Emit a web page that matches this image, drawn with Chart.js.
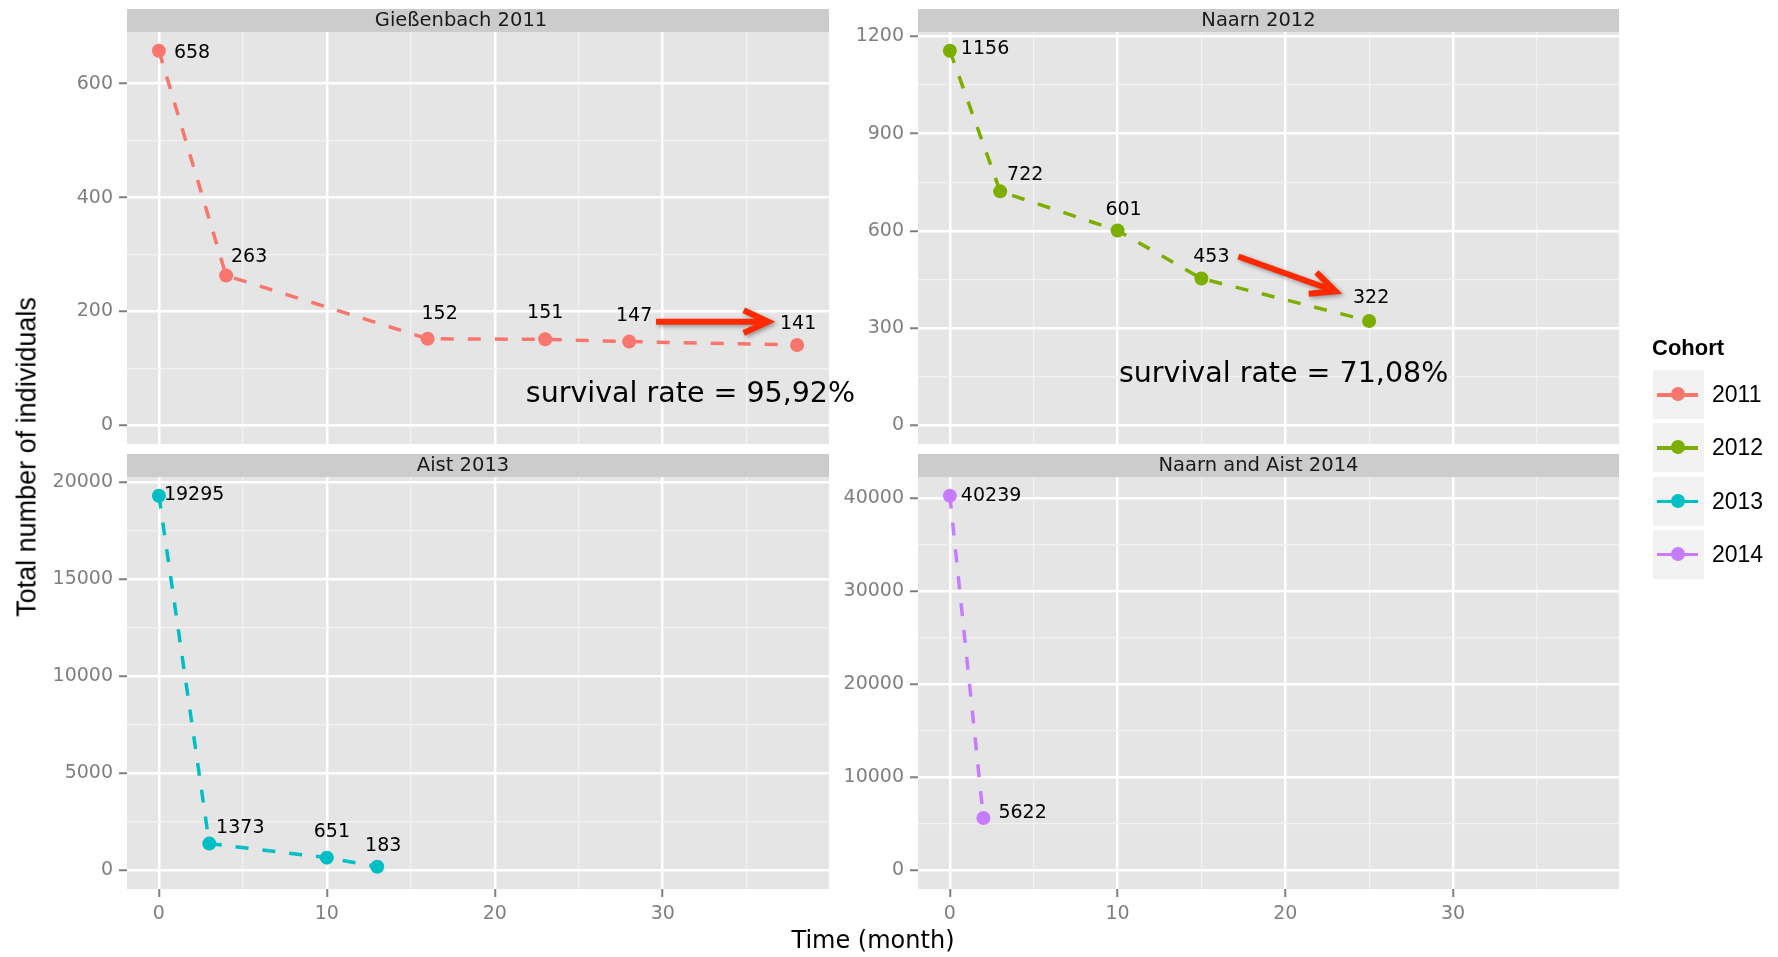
<!DOCTYPE html>
<html>
<head>
<meta charset="utf-8">
<script src="https://cdn.jsdelivr.net/npm/chart.js@4.4.1/dist/chart.umd.min.js"></script>
<style>
  body { margin: 0; background: #fff; width: 1778px; height: 957px; position: relative; overflow: hidden; }
  canvas { position: absolute; }
  .axis-title { position: absolute; white-space: nowrap; color: #000; }
  #ytitle { left: 27px; top: 457px; font: 27px "Liberation Sans", Arial, sans-serif; transform: translate(-50%, -50%) rotate(-90deg); }
  #xtitle { left: 873px; top: 928px; font: 24px/24px "DejaVu Sans", sans-serif; transform: translateX(-50%); }
  #legend { position: absolute; left: 1652px; top: 337px; font-family: "Liberation Sans", Arial, sans-serif; }
  #legend .title { font: bold 22px/22px "Liberation Sans", Arial, sans-serif; }
  .key { position: absolute; left: 1px; width: 51px; height: 49px; background: #f2f2f2; }
  .key .ln { position: absolute; left: 4px; width: 41px; top: 23px; height: 3.5px; }
  .key .pt { position: absolute; left: 18px; top: 17px; width: 14px; height: 14px; border-radius: 50%; }
  .keylab { position: absolute; left: 60px; font-size: 23px; line-height: 49px; white-space: nowrap; }
</style>
</head>
<body>
<canvas id="panel0"></canvas>
<canvas id="panel1"></canvas>
<canvas id="panel2"></canvas>
<canvas id="panel3"></canvas>
<div id="ytitle" class="axis-title">Total number of individuals</div>
<div id="xtitle" class="axis-title">Time (month)</div>
<div id="legend"><div class="title">Cohort</div></div>
<script>
// data
const cohorts = ['2011', '2012', '2013', '2014'];
const panelTitles = ['Gießenbach 2011', 'Naarn 2012', 'Aist 2013', 'Naarn and Aist 2014'];
const cohortColors = ['#F8766D', '#7CAE00', '#00BFC4', '#C77CFF'];

const months2011 = [0, 4, 16, 23, 28, 38];
const counts2011 = [658, 263, 152, 151, 147, 141];
const months2012 = [0, 3, 10, 15, 25];
const counts2012 = [1156, 722, 601, 453, 322];
const months2013 = [0, 3, 10, 13];
const counts2013 = [19295, 1373, 651, 183];
const months2014 = [0, 2];
const counts2014 = [40239, 5622];

const xTicks = [0, 10, 20, 30];
const yTicks2011 = [0, 200, 400, 600];
const yTicks2012 = [0, 300, 600, 900, 1200];
const yTicks2013 = [0, 5000, 10000, 15000, 20000];
const yTicks2014 = [0, 10000, 20000, 30000, 40000];

const survivalNotes = ['survival rate = 95,92%', 'survival rate = 71,08%'];

const allMonths = [months2011, months2012, months2013, months2014];
const allCounts = [counts2011, counts2012, counts2013, counts2014];
const allYTicks = [yTicks2011, yTicks2012, yTicks2013, yTicks2014];

// annotation placement (data coordinates) for the two top panels
const arrowsAt = [[[29.6, 182], [36.7, 182]], [[17.2, 521], [23.4, 406]]];
const notesAt = [[31.65, 41], [19.9, 133]];

// value label offsets in px: [dx, dy, align]
const labelPlacement = [
  [[15, 2, 'left'], [23, -19, 'center'], [12, -25, 'center'], [0, -26, 'center'], [5, -26, 'center'], [1, -21, 'center']],
  [[11, -2, 'left'], [25, -16, 'center'], [6, -20, 'center'], [10, -21, 'center'], [2, -23, 'center']],
  [[5, -1, 'left'], [31, -16, 'center'], [5, -26, 'center'], [6, -21, 'center']],
  [[11, 0, 'left'], [15, -5, 'left']]
];
// strip titles sit a little left of the panel centre in the original
const stripTextShift = [-17, -10, -15, -10];

// panel boxes on the page
const plotBoxes = [
  { left: 127, right: 829, top: 32, bottom: 444 },
  { left: 918, right: 1619, top: 32, bottom: 444 },
  { left: 127, right: 829, top: 477, bottom: 889 },
  { left: 918, right: 1619, top: 477, bottom: 889 }
];

const Y_AXIS_W = 110, STRIP_H = 23, PAD_TOP = 32, PAD_RIGHT = 40;
const tickFont = { family: 'DejaVu Sans', size: 19 };

function expandRange(lo, hi) {
  const e = (hi - lo) * 0.05;
  return [lo - e, hi + e];
}

function withMinors(majors, lo, hi) {
  const step = majors[1] - majors[0];
  const out = [];
  for (let v = majors[0] - step; v <= majors[majors.length - 1] + step; v += step / 2) {
    if (v >= lo && v <= hi) out.push(v);
  }
  return out;
}

const xMaxData = Math.max(...allMonths.flat());
const [xMin, xMax] = expandRange(0, xMaxData);

function drawArrow(ctx, x0, y0, x1, y1) {
  const ang = Math.atan2(y1 - y0, x1 - x0);
  const arm = 27, spread = 25 * Math.PI / 180, w = 6;
  // pull the vertex back so the mitred point lands on the target
  const back = (w / 2) / Math.sin(spread);
  const tx = x1 - back * Math.cos(ang), ty = y1 - back * Math.sin(ang);
  ctx.save();
  ctx.strokeStyle = '#FF2A00';
  ctx.lineWidth = w;
  ctx.lineJoin = 'miter';
  ctx.shadowColor = 'rgba(0,0,0,0.35)';
  ctx.shadowBlur = 4;
  ctx.shadowOffsetX = 2;
  ctx.shadowOffsetY = 2;
  ctx.beginPath();
  ctx.moveTo(x0, y0);
  ctx.lineTo(tx - 4 * Math.cos(ang), ty - 4 * Math.sin(ang));
  ctx.moveTo(tx - arm * Math.cos(ang - spread), ty - arm * Math.sin(ang - spread));
  ctx.lineTo(tx, ty);
  ctx.lineTo(tx - arm * Math.cos(ang + spread), ty - arm * Math.sin(ang + spread));
  ctx.stroke();
  ctx.restore();
}

function buildPanel(i) {
  const box = plotBoxes[i];
  const bottomRow = i >= 2;
  // top row keeps a blank strip under the plot so label padding can't squeeze it
  const xAxisH = bottomRow ? 40 : 16;
  const canvas = document.getElementById('panel' + i);
  canvas.width = Y_AXIS_W + (box.right - box.left) + PAD_RIGHT;
  canvas.height = PAD_TOP + (box.bottom - box.top) + xAxisH;
  canvas.style.left = (box.left - Y_AXIS_W) + 'px';
  canvas.style.top = (box.top - PAD_TOP) + 'px';

  const months = allMonths[i], counts = allCounts[i], yMajors = allYTicks[i];
  const [yMin, yMax] = expandRange(0, Math.max(...counts));
  const yGrid = withMinors(yMajors, yMin, yMax);
  const xGrid = withMinors(xTicks, xMin, xMax);
  const color = cohortColors[i];

  const noPad = s => { s.paddingLeft = 0; s.paddingRight = 0; s.paddingTop = 0; s.paddingBottom = 0; };

  const panelPlugin = {
    id: 'panelDecor' + i,
    beforeDraw(chart) {
      const { ctx, chartArea: a } = chart;
      ctx.save();
      ctx.fillStyle = '#E5E5E5';
      ctx.fillRect(a.left, a.top, a.right - a.left, a.bottom - a.top);
      ctx.fillStyle = '#CCCCCC';
      ctx.fillRect(a.left, a.top - STRIP_H, a.right - a.left, STRIP_H);
      ctx.fillStyle = '#1A1A1A';
      ctx.font = '19.5px "DejaVu Sans"';
      ctx.textAlign = 'center';
      ctx.textBaseline = 'alphabetic';
      ctx.fillText(panelTitles[i], (a.left + a.right) / 2 + stripTextShift[i], a.top - 6);
      ctx.restore();
    },
    afterDatasetsDraw(chart) {
      const { ctx } = chart;
      const xs = chart.scales.x, ys = chart.scales.y;
      ctx.save();
      ctx.fillStyle = '#000';
      ctx.font = '19px "DejaVu Sans"';
      ctx.textBaseline = 'middle';
      counts.forEach((c, k) => {
        const [dx, dy, align] = labelPlacement[i][k];
        ctx.textAlign = align;
        ctx.fillText(String(c), xs.getPixelForValue(months[k]) + dx, ys.getPixelForValue(c) + dy);
      });
      if (i < 2) {
        const [[ax0, ay0], [ax1, ay1]] = arrowsAt[i];
        drawArrow(ctx, xs.getPixelForValue(ax0), ys.getPixelForValue(ay0),
                       xs.getPixelForValue(ax1), ys.getPixelForValue(ay1));
        ctx.font = '28.5px "DejaVu Sans"';
        ctx.textAlign = 'center';
        ctx.textBaseline = 'alphabetic';
        ctx.fillText(survivalNotes[i], xs.getPixelForValue(notesAt[i][0]), ys.getPixelForValue(notesAt[i][1]));
      }
      ctx.restore();
    }
  };

  return new Chart(canvas.getContext('2d'), {
    type: 'line',
    data: {
      datasets: [{
        label: cohorts[i],
        data: months.map((m, k) => ({ x: m, y: counts[k] })),
        borderColor: color,
        backgroundColor: color,
        borderWidth: 3.5,
        borderDash: [13, 14],
        pointRadius: 7,
        pointBorderWidth: 0,
        pointBackgroundColor: color,
        tension: 0
      }]
    },
    options: {
      responsive: false,
      devicePixelRatio: 1,
      animation: false,
      layout: { padding: { top: PAD_TOP, right: PAD_RIGHT, left: 0, bottom: 0 } },
      plugins: { legend: { display: false }, tooltip: { enabled: false } },
      scales: {
        x: {
          type: 'linear',
          min: xMin,
          max: xMax,
          border: { display: false },
          afterBuildTicks: s => { s.ticks = xGrid.map(v => ({ value: v })); },
          afterFit: s => { s.height = xAxisH; noPad(s); },
          grid: {
            color: c => xTicks.includes(c.tick.value) ? '#FFFFFF' : '#F2F2F2',
            lineWidth: c => xTicks.includes(c.tick.value) ? 2.5 : 1.2,
            drawTicks: bottomRow,
            tickLength: 8,
            tickWidth: 2,
            tickColor: c => xTicks.includes(c.tick.value) ? '#7F7F7F' : 'rgba(0,0,0,0)'
          },
          ticks: {
            display: bottomRow,
            autoSkip: false,
            maxRotation: 0,
            padding: 6,
            color: '#7F7F7F',
            font: tickFont,
            callback: v => xTicks.includes(v) ? String(v) : ''
          }
        },
        y: {
          type: 'linear',
          min: yMin,
          max: yMax,
          border: { display: false },
          afterBuildTicks: s => { s.ticks = yGrid.map(v => ({ value: v })); },
          afterFit: s => { s.width = Y_AXIS_W; noPad(s); },
          grid: {
            color: c => yMajors.includes(c.tick.value) ? '#FFFFFF' : '#F2F2F2',
            lineWidth: c => yMajors.includes(c.tick.value) ? 2.5 : 1.2,
            tickLength: 8,
            tickWidth: 2,
            tickColor: c => yMajors.includes(c.tick.value) ? '#7F7F7F' : 'rgba(0,0,0,0)'
          },
          ticks: {
            autoSkip: false,
            padding: 6,
            color: '#7F7F7F',
            font: tickFont,
            callback: v => yMajors.includes(v) ? String(v) : ''
          }
        }
      }
    },
    plugins: [panelPlugin]
  });
}

window.panelCharts = [0, 1, 2, 3].map(buildPanel);

// legend
const legend = document.getElementById('legend');
cohorts.forEach((name, k) => {
  const key = document.createElement('div');
  key.className = 'key';
  key.style.top = (33 + k * 53.3) + 'px';
  key.innerHTML = '<div class="ln" style="background:' + cohortColors[k] + '"></div>' +
                  '<div class="pt" style="background:' + cohortColors[k] + '"></div>';
  const lab = document.createElement('div');
  lab.className = 'keylab';
  lab.style.top = (33 + k * 53.3) + 'px';
  lab.textContent = name;
  legend.appendChild(key);
  legend.appendChild(lab);
});
</script>
</body>
</html>
